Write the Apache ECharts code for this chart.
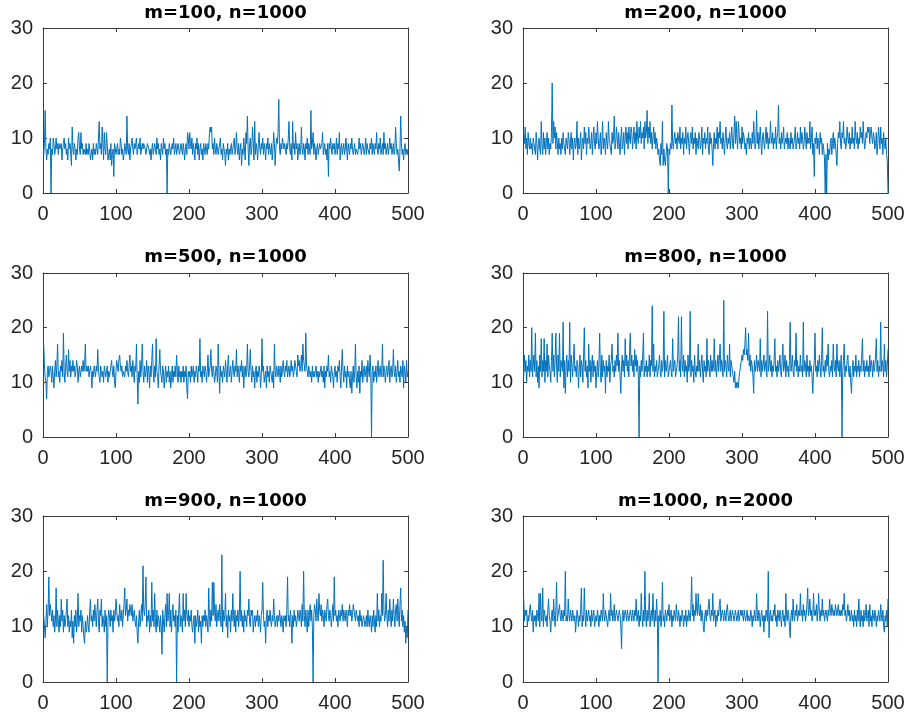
<!DOCTYPE html>
<html>
<head>
<meta charset="utf-8">
<script src="https://cdn.jsdelivr.net/npm/echarts@6/dist/echarts.min.js"></script>
<style>
  html, body { margin: 0; padding: 0; background: #fff; }
  #chart { width: 909px; height: 719px; }
</style>
</head>
<body>
<div id="chart"></div>
<script>
// panel titles
const titles = ['m=100, n=1000', 'm=200, n=1000', 'm=500, n=1000', 'm=800, n=1000', 'm=900, n=1000', 'm=1000, n=2000']
const xTicks = [0, 100, 200, 300, 400, 500]
const yTicks = [0, 10, 20, 30]

// values, x = 1..500
const m100n1000 = [
  7,9,15,8,6,8,7,9,8,10, 0,8,7,10,9,7,8,10,8,9, 7,9,8,8,9,6,8,9,10,8, 9,7,8,6,10,8,9,7,5,12,
  8,7,9,8,6,8,7,10,11,8, 7,11,8,9,7,8,8,7,9,7, 8,7,9,8,6,7,8,6,9,7, 8,7,9,8,7,10,13,8,9,7,
  12,9,6,11,8,7,11,9,6,7, 8,6,9,5,7,8,3,9,8,7, 8,9,7,8,7,10,9,7,8,6, 7,9,8,7,14,8,7,9,6,8,
  9,10,8,7,9,8,9,10,7,8, 9,8,10,7,8,9,8,9,9,8, 7,8,9,9,8,7,8,6,8,9, 7,8,9,8,7,10,8,9,7,8,
  6,9,8,7,10,8,9,7,8,0, 8,7,9,8,7,8,9,8,10,7, 8,9,7,8,9,8,7,8,9,8, 7,9,8,6,8,9,7,11,10,8,
  11,9,8,10,7,9,8,6,9,8, 10,7,9,6,8,9,7,8,6,9, 8,7,9,8,7,9,8,11,12,11, 12,8,9,7,10,8,7,9,8,7,
  8,9,10,7,8,6,9,8,7,5, 8,7,9,6,8,7,8,9,7,8, 9,10,7,8,11,8,7,9,6,8, 9,5,8,7,10,8,6,11,9,14,
  8,5,9,10,7,8,12,9,6,13, 7,9,8,6,9,11,8,7,9,8, 10,7,9,8,6,9,8,10,7,9, 8,7,9,6,8,11,9,5,8,10,
  9,11,17,8,7,9,8,10,9,8, 9,8,7,9,8,10,13,8,7,9, 6,13,8,9,7,11,8,9,6,8, 9,7,8,12,8,7,9,8,6,9,
  8,10,7,9,8,7,15,8,9,11, 7,9,8,6,8,9,7,8,9,8, 8,9,11,7,8,9,7,8,6,9, 3,9,8,10,8,7,9,8,9,7,
  8,10,7,9,8,11,6,8,9,7, 8,9,7,8,10,8,6,9,8,7, 9,8,10,8,7,8,9,7,8,8, 7,8,10,8,9,7,8,9,8,7,
  8,10,7,9,8,8,7,9,8,10, 7,9,8,7,9,8,11,8,7,9, 8,10,7,8,9,7,11,8,9,7, 8,9,7,8,10,8,9,7,8,9,
  7,8,12,9,7,8,6,4,8,14, 9,7,8,6,8,9,7,8,7,8
]
const m200n1000 = [
  11,9,12,8,10,7,11,9,8,10, 8,9,7,10,9,8,7,11,9,6, 9,10,8,7,13,9,7,11,8,10, 7,9,11,8,10,7,9,8,11,20,
  9,13,10,12,8,11,9,7,10,8, 9,7,10,8,11,9,8,7,10,9, 8,11,10,7,9,11,8,10,6,9, 10,8,9,13,7,10,8,9,11,6,
  9,10,8,12,9,11,7,10,9,12, 10,8,9,11,7,10,12,9,8,11, 9,13,10,8,9,11,7,9,13,8, 10,9,7,11,9,8,13,10,9,8,
  7,11,9,10,14,8,9,12,10,8, 11,9,7,10,12,8,9,11,7,10, 12,9,11,8,12,10,9,12,11,8, 10,12,9,11,8,13,10,9,12,10,
  13,9,11,10,12,8,13,10,11,15, 9,12,10,13,9,11,8,10,12,9, 11,8,10,9,7,8,6,5,9,7, 13,5,8,6,5,7,9,8,0,8,
  7,9,8,16,9,8,10,11,9,10, 8,11,10,9,12,8,10,9,11,7, 10,9,12,8,10,11,9,7,10,11, 9,12,8,10,9,11,7,10,9,8,
  11,10,8,9,12,7,10,9,11,8, 10,9,12,8,7,11,9,10,8,5, 9,11,8,10,9,12,8,11,10,13, 9,10,8,11,9,7,10,12,9,8,
  10,9,11,8,10,12,9,8,11,14, 9,13,10,8,13,11,9,10,8,12, 9,11,10,8,9,7,10,9,11,8, 10,9,8,11,9,13,10,8,9,15,
  9,11,8,10,12,9,7,10,11,9, 8,10,12,9,11,8,10,9,13,10, 9,11,8,10,9,12,8,10,11,16, 9,10,8,11,9,10,12,8,9,10,
  9,11,8,10,9,8,11,9,10,8, 9,10,12,8,9,11,9,10,8,12, 9,11,10,8,9,12,10,8,11,9, 10,9,13,8,10,12,7,9,3,10,
  9,11,8,10,9,7,11,9,10,7, 9,8,6,0,7,0,9,6,8,7, 9,10,7,9,11,8,10,9,7,5, 9,11,10,13,9,8,11,10,13,9,
  10,8,9,12,10,9,11,8,10,9, 12,9,10,8,13,10,9,11,8,10, 9,12,10,11,9,13,10,8,9,11, 10,12,11,12,9,11,12,10,9,11,
  10,8,9,11,7,9,12,10,8,12, 9,10,7,11,9,8,10,7,6,0
]
const m500n1000 = [
  17,13,11,10,7,12,13,11,12,13, 12,10,13,11,9,12,14,11,13,17, 11,12,10,13,12,14,11,19,12,10, 13,15,12,11,16,12,14,11,13,12,
  14,12,13,11,12,14,13,10,12,13, 11,12,13,12,14,12,13,17,12,13, 12,13,11,12,13,12,9,12,11,13, 12,11,13,12,16,12,11,10,13,12,
  11,12,10,13,12,11,12,13,10,12, 11,12,13,14,12,11,13,10,9,12, 14,13,12,14,15,13,12,13,11,12, 12,11,13,12,14,12,11,13,15,12,
  13,11,14,12,10,13,12,17,11,6, 12,10,14,11,13,17,12,10,13,11, 12,14,10,13,12,9,13,11,14,17, 12,10,13,11,18,12,11,9,13,16,
  12,11,10,13,12,9,11,13,10,12, 11,13,10,12,9,11,13,10,12,11, 13,11,15,12,10,13,11,12,10,12, 11,13,10,12,11,13,9,7,12,11,
  12,10,13,11,12,13,10,12,11,13, 12,10,13,12,18,11,12,10,13,12, 11,13,12,10,12,15,11,12,13,16, 12,11,13,12,10,11,13,12,10,17,
  12,8,13,11,12,10,13,12,11,14, 12,10,13,15,11,12,13,10,12,14, 12,11,13,12,16,11,13,12,10,13, 12,14,11,13,9,12,13,11,12,17,
  12,11,13,16,12,10,13,11,12,9, 12,13,10,12,11,13,12,9,11,18, 12,13,10,11,12,9,13,11,12,10, 13,12,11,10,12,9,17,12,11,13,
  12,11,13,12,10,13,11,12,14,12, 11,13,12,14,11,12,13,11,12,14, 12,13,11,12,14,13,12,11,15,13, 14,12,13,15,12,17,14,13,12,19,
  13,12,11,13,12,11,12,10,13,11, 12,11,12,13,11,12,10,12,11,12, 13,11,12,10,13,9,12,11,13,12, 15,11,12,10,13,12,11,9,12,13,
  11,12,10,13,12,14,11,9,13,16, 12,10,13,11,12,9,13,11,12,10, 9,12,8,11,13,10,12,17,11,9, 12,10,13,8,12,11,14,10,12,13,
  11,12,13,10,14,12,11,15,12,0, 12,13,10,12,11,13,10,12,14,11, 12,13,11,12,17,11,13,12,10,12, 13,11,12,14,10,12,13,11,12,16,
  12,11,13,10,12,14,11,12,10,13, 12,11,14,9,13,12,10,14,11,12
]
const m800n1000 = [
  11,15,12,14,10,13,12,15,11,14, 12,20,11,13,15,12,19,11,14,10, 13,9,15,12,18,11,14,12,18,10, 14,12,17,11,15,13,12,10,14,19,
  12,15,11,14,19,13,10,15,12,19, 11,14,13,12,21,9,14,8,13,15, 11,14,12,21,10,15,13,11,14,17, 12,13,11,14,13,9,12,15,11,14,
  13,10,15,20,12,14,11,13,9,17, 12,14,10,13,15,11,14,12,13,9, 12,14,11,13,19,12,10,15,11,14, 12,13,8,14,11,13,12,15,10,13,
  14,17,12,13,11,14,12,15,13,19, 12,14,11,8,13,15,12,14,11,18, 13,15,12,14,11,16,19,13,15,12, 14,11,16,13,15,12,14,11,0,13,
  11,14,12,15,19,11,13,12,14,11, 13,12,15,11,14,13,24,12,17,11, 13,12,14,11,12,13,15,12,11,14, 12,13,23,11,14,12,13,15,11,12,
  13,14,12,11,18,12,13,14,11,12, 13,15,22,12,14,11,22,13,12,15, 11,14,12,13,10,15,12,13,23,11, 14,12,13,10,15,12,11,13,12,17,
  12,14,11,13,15,12,10,14,12,13, 11,18,12,14,13,11,15,12,14,12, 13,18,12,14,11,13,15,12,14,17, 12,14,13,11,25,12,14,13,11,15,
  13,12,17,11,14,13,12,11,10,12, 9,10,9,10,9,11,12,13,14,15, 14,16,15,17,20,15,16,14,19,13, 15,12,14,13,11,8,14,12,13,15,
  12,14,13,12,18,11,14,12,13,15, 12,13,14,11,23,12,13,15,12,14, 11,13,12,14,18,12,13,11,14,12, 13,15,12,11,14,17,12,13,15,11,
  14,12,13,11,14,21,12,13,15,12, 11,14,13,19,12,14,11,13,12,15, 12,13,11,21,12,14,13,11,15,12, 13,11,14,12,13,11,8,12,14,19,
  12,13,11,14,12,15,13,11,14,20, 12,13,11,14,12,15,13,17,12,11, 13,12,14,11,17,13,12,14,11,17, 13,12,14,11,13,15,0,12,14,17,
  11,13,12,14,15,12,11,13,10,8, 12,14,11,13,12,15,11,13,12,14, 11,13,12,15,18,12,14,11,13,12, 14,12,13,11,15,12,14,13,11,14,
  12,13,15,18,12,14,11,13,12,21, 12,14,13,11,17,12,14,11,13,16
]
const m900n1000 = [
  12,10,8,11,14,10,13,19,12,14, 14,11,13,10,12,9,11,17,10,13, 11,9,12,10,15,11,13,9,12,10, 11,13,15,10,12,9,11,10,13,8,
  11,7,12,10,13,9,11,16,10,12, 11,13,9,12,10,8,7,11,9,10, 12,10,9,13,15,11,12,10,13,11, 14,12,10,13,15,11,9,13,12,15,
  10,12,11,9,13,10,12,0,11,13, 12,10,13,11,12,9,13,11,12,15, 13,11,12,10,14,12,11,13,10,12, 14,17,12,13,15,11,13,12,14,13,
  12,14,11,12,13,11,10,12,9,7, 11,13,10,12,14,11,21,13,12,14, 19,10,12,11,13,9,12,10,18,11, 13,10,16,11,9,13,10,12,11,9,
  12,10,5,13,11,9,12,14,10,16, 11,12,16,10,13,9,12,14,11,12, 10,13,0,12,9,13,16,10,12,11, 9,16,11,13,10,16,12,11,13,10,
  12,11,13,10,9,11,12,7,12,10, 11,13,9,12,10,11,7,12,10,12, 11,13,10,12,11,9,17,12,10,13, 11,18,12,18,13,11,14,10,12,13,
  11,14,12,10,23,9,13,11,12,16, 10,12,8,13,11,12,9,13,11,16, 12,10,13,9,12,11,13,10,12,20, 11,13,10,12,9,13,11,12,10,13,
  12,15,11,10,13,12,13,9,11,12, 10,12,11,13,10,12,11,9,12,13, 18,12,10,11,7,12,13,10,12,11, 13,11,10,12,11,15,12,10,11,12,
  10,12,11,13,13,10,12,11,9,12, 11,12,10,13,19,11,12,10,13,11, 7,12,10,13,11,12,10,11,13,12, 11,13,12,10,14,11,20,12,10,13,
  11,9,13,10,12,14,11,13,10,0, 12,14,13,11,15,12,11,16,13,12, 14,11,13,12,10,13,12,11,14,15, 12,11,13,12,10,12,14,11,19,12,
  13,11,12,10,13,12,11,13,12,14, 11,13,12,11,13,12,10,13,12,14, 12,13,11,12,14,13,12,11,13,12, 11,12,10,13,11,12,10,11,12,12,
  10,11,12,10,13,11,10,12,11,9, 12,10,13,11,9,12,10,16,11,13, 10,12,11,16,12,22,13,11,12,16, 12,10,13,11,15,12,10,13,11,15,
  12,10,13,14,11,15,12,10,14,17, 11,13,10,12,9,11,7,10,8,13
]
const m1000n2000 = [
  15,11,13,12,13,10,12,11,13,14, 12,11,13,9,12,11,12,10,13,12, 11,16,10,16,12,11,17,10,13,12, 11,12,10,13,15,12,11,9,12,13,
  11,15,12,10,13,18,11,12,13,14, 12,11,13,12,11,13,12,20,11,12, 11,15,12,11,13,12,11,13,12,11, 12,9,11,13,12,10,12,11,13,17,
  10,12,11,17,12,10,13,11,12,13, 11,12,10,13,11,12,13,10,11,12, 11,13,12,10,12,11,13,12,11,16, 12,11,13,12,11,10,12,13,11,16,
  12,13,11,12,14,11,12,13,12,11, 12,13,12,10,6,12,13,11,12,13, 12,11,13,12,11,12,13,12,11,13, 12,11,13,12,15,11,12,13,10,12,
  11,16,12,10,13,11,20,12,10,13, 11,12,16,10,12,13,11,16,12,10, 13,11,15,12,0,12,11,13,10,12, 18,11,12,10,13,12,11,13,12,14,
  11,12,13,10,12,11,13,12,11,14, 12,11,13,12,10,12,11,13,12,10, 12,11,13,10,12,11,13,12,11,13, 19,12,14,11,13,12,16,13,12,16,
  13,12,14,11,13,12,10,9,12,13, 11,13,12,14,15,12,11,13,12,16, 11,12,13,10,12,11,13,12,14,15, 11,12,13,12,11,13,12,11,13,14,
  12,11,12,13,11,12,13,12,11,12, 13,12,11,12,13,11,12,13,12,13, 12,11,13,12,11,12,13,11,12,12, 11,13,12,10,12,11,13,12,11,16,
  12,11,13,12,10,12,13,11,12,9, 12,11,13,12,11,20,8,12,13,11, 12,11,13,12,14,11,12,10,13,12, 11,13,12,10,12,13,11,12,10,16,
  12,11,13,12,10,8,12,13,11,15, 12,11,13,12,14,11,12,13,12,16, 12,13,11,14,12,13,11,12,14,17, 12,13,15,12,13,11,12,16,12,13,
  12,14,11,13,16,12,11,13,12,15, 12,13,11,12,13,12,11,13,12,15, 13,12,14,13,12,13,12,14,13,12, 13,14,12,13,12,13,12,14,13,16,
  12,13,11,12,14,12,13,11,12,13, 11,12,10,13,11,12,10,13,11,15, 12,10,13,11,12,10,13,11,12,14, 11,12,13,10,14,11,12,10,13,12,
  11,13,12,10,12,11,13,12,11,14, 12,11,13,10,9,12,11,13,10,15
]

const panels = [m100n1000, m200n1000, m500n1000, m800n1000, m900n1000, m1000n2000]

// plot boxes in px: [left, top, width, height]
const boxes = [
  [43, 28, 365, 165], [523, 28, 365, 165],
  [43, 273, 365, 164], [523, 273, 365, 164],
  [43, 516, 365, 166], [523, 516, 365, 166]
]
const titleY = [13, 13, 257, 257, 501, 501]

const axisColor = '#3c3c3c'
const textColor = '#262626'
const lineColor = '#0072BD'

const grid = []
const xAxis = []
const yAxis = []
const series = []
const title = []

boxes.forEach((b, i) => {
  grid.push({ left: b[0], top: b[1], width: b[2], height: b[3] })
  title.push({
    text: titles[i],
    left: b[0] + b[2] / 2,
    top: titleY[i],
    textAlign: 'center',
    textVerticalAlign: 'middle',
    padding: 0,
    textStyle: { fontFamily: 'DejaVu Sans', fontWeight: 'bold', fontSize: 18, color: '#000' }
  })
  const common = {
    type: 'value',
    gridIndex: i,
    splitLine: { show: false },
    axisLine: { show: true, onZero: false, lineStyle: { color: axisColor, width: 1 } },
    axisTick: { show: true, inside: true, length: 4, lineStyle: { color: axisColor } }
  }
  xAxis.push(Object.assign({}, common, {
    position: 'bottom', min: 0, max: 500, interval: 100,
    axisLabel: { show: true, margin: 11, fontFamily: 'Liberation Sans', fontSize: 20, color: textColor }
  }))
  xAxis.push(Object.assign({}, common, {
    position: 'top', min: 0, max: 500, interval: 100, axisLabel: { show: false }
  }))
  yAxis.push(Object.assign({}, common, {
    position: 'left', min: 0, max: 30, interval: 10,
    axisLabel: { show: true, margin: 10, fontFamily: 'Liberation Sans', fontSize: 20, color: textColor }
  }))
  yAxis.push(Object.assign({}, common, {
    position: 'right', min: 0, max: 30, interval: 10, axisLabel: { show: false }
  }))
  series.push({
    type: 'line',
    xAxisIndex: 2 * i,
    yAxisIndex: 2 * i,
    data: panels[i].map((v, k) => [k + 1, v]),
    showSymbol: false,
    symbol: 'none',
    lineStyle: { color: lineColor, width: 1 },
    silent: true
  })
})

const chart = echarts.init(document.getElementById('chart'))
chart.setOption({
  backgroundColor: '#fff',
  animation: false,
  title,
  grid,
  xAxis,
  yAxis,
  series
})
</script>
</body>
</html>
